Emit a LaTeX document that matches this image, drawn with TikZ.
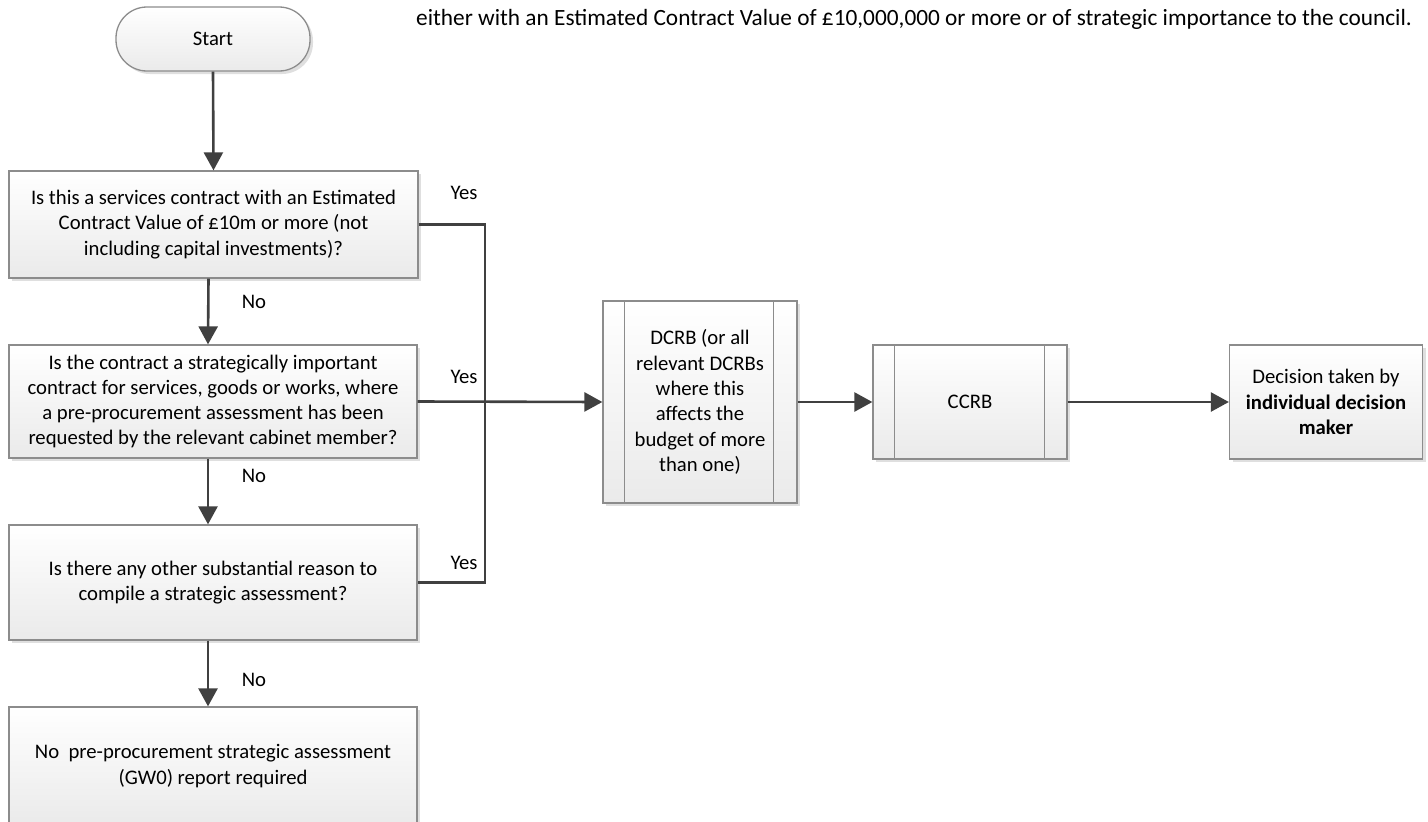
\documentclass[tikz,border=0pt]{standalone}
\usepackage{fontspec}
\setmainfont{Carlito}
\usetikzlibrary{arrows.meta,shadows,calc}
\definecolor{conncol}{RGB}{64,64,64}
\definecolor{edgecol}{RGB}{140,140,140}
\definecolor{fillbot}{RGB}{234,234,234}
\tikzset{
  boxbase/.style={draw=edgecol, line width=1.3pt, top color=white, bottom color=fillbot,
    drop shadow={shadow xshift=3pt, shadow yshift=-3pt, opacity=0.25, fill=gray},
    align=center, inner sep=0pt, font=\fontsize{20.7}{25.3}\selectfont},
  termbox/.style={boxbase, rounded corners=31pt, minimum width=194pt, minimum height=64pt},
  conn/.style={draw=conncol, line width=2.6pt},
  arr/.style={conn, -{Triangle[length=18pt,width=19pt]}},
  lbl/.style={font=\fontsize{20.7}{25.3}\selectfont, inner sep=0pt},
  innerline/.style={draw=edgecol, line width=1.3pt}
}
\begin{document}
\begin{tikzpicture}[x=1pt,y=-1pt]
\useasboundingbox (0,0) rectangle (1428,822);
\fill[white] (0,0) rectangle (1428,822);

\node[lbl, font=\fontsize{23.3}{28}\selectfont] (note) at (914,19) {either with an Estimated Contract Value of £10,000,000 or more or of strategic importance to the council.};

\node[termbox] (start) at (213,39) {Start};
\node[boxbase, minimum width=409pt, minimum height=107pt] (q1) at (213.5,224.5)
  {Is this a services contract with an Estimated\\Contract Value of £10m or more (not\\including capital investments)?};
\node[boxbase, minimum width=408pt, minimum height=113pt] (q2) at (213,401.5)
  {Is the contract a strategically important\\contract for services, goods or works, where\\a pre-procurement assessment has been\\requested by the relevant cabinet member?};
\node[boxbase, minimum width=408pt, minimum height=115pt] (q3) at (213,582.5)
  {Is there any other substantial reason to\\compile a strategic assessment?};
\node[boxbase, minimum width=408pt, minimum height=118pt] (q4) at (213,766)
  {No\ \ pre-procurement strategic assessment\\(GW0) report required};

\node[boxbase, minimum width=194pt, minimum height=202pt] (dcrb) at (700,402)
  {DCRB (or all\\relevant DCRBs\\where this\\affects the\\budget of more\\than one)};
\draw[innerline] ($(dcrb.north west)+(22,0)$) -- ($(dcrb.south west)+(22,0)$);
\draw[innerline] ($(dcrb.north east)+(-24,0)$) -- ($(dcrb.south east)+(-24,0)$);

\node[boxbase, minimum width=194pt, minimum height=114pt] (ccrb) at (970,402) {CCRB};
\draw[innerline] ($(ccrb.north west)+(22,0)$) -- ($(ccrb.south west)+(22,0)$);
\draw[innerline] ($(ccrb.north east)+(-23,0)$) -- ($(ccrb.south east)+(-23,0)$);

\node[boxbase, minimum width=193pt, minimum height=114pt] (dec) at (1326,402)
  {Decision taken by\\\textbf{individual decision}\\\textbf{maker}};

\coordinate (bus) at (485,400);

\draw[arr] (start.south) -- (q1.north);
\draw[arr] ([xshift=-5pt]q1.south) -- ([xshift=-5pt]q2.north);
\draw[arr] ([xshift=-5pt]q2.south) -- ([xshift=-5pt]q3.north);
\draw[arr] ([xshift=-5pt]q3.south) -- ([xshift=-5pt]q4.north);

\draw[conn] (q1.east) -- (q1.east -| bus) -- (q3.east -| bus) -- (q3.east);
\draw[arr] (q2.east) -- (dcrb.west);
\draw[arr] (dcrb.east) -- (ccrb.west);
\draw[arr] (ccrb.east) -- (dec.west);

\node[lbl] (no1) at (254,302) {No};
\node[lbl] (no2) at (254,476) {No};
\node[lbl] (no3) at (254,680) {No};
\node[lbl] (yes1) at (464,193) {Yes};
\node[lbl] (yes2) at (464,377) {Yes};
\node[lbl] (yes3) at (464,563) {Yes};
\end{tikzpicture}
\end{document}
